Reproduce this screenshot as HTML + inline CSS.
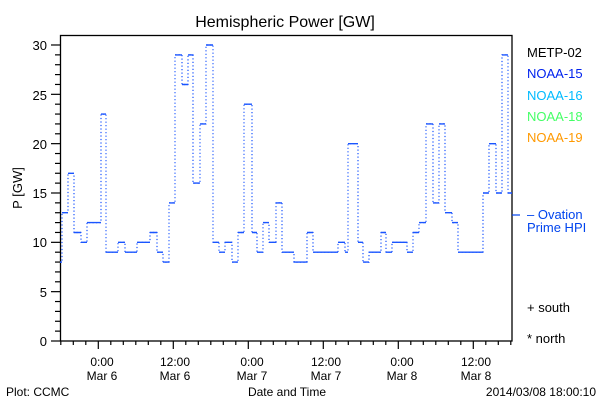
<!DOCTYPE html>
<html><head><meta charset="utf-8"><style>
html,body{margin:0;padding:0;background:#fff;}
svg{display:block;font-family:"Liberation Sans","DejaVu Sans",sans-serif;}
</style></head><body>
<svg id="s" width="600" height="400" viewBox="0 0 600 400" xmlns="http://www.w3.org/2000/svg">
<rect width="600" height="400" fill="#fff"/>
<text x="285" y="27" font-size="16" text-anchor="middle" fill="#000">Hemispheric Power [GW]</text>
<rect x="60.5" y="35.5" width="451.5" height="305.5" fill="none" stroke="#000" stroke-width="1.3"/>
<g id="ticks" stroke="#000" stroke-width="1.2"></g>
<g font-size="13" fill="#000" text-anchor="end">
<text x="47" y="50">30</text><text x="47" y="100">25</text><text x="47" y="149">20</text><text x="47" y="198">15</text><text x="47" y="247">10</text><text x="47" y="297">5</text><text x="47" y="346">0</text>
</g>
<text x="22" y="188" font-size="13" text-anchor="middle" transform="rotate(-90 22 188)">P [GW]</text>
<g font-size="12" fill="#000" text-anchor="middle">
<text x="102" y="366">0:00</text><text x="102" y="380">Mar 6</text>
<text x="175" y="366">12:00</text><text x="175" y="380">Mar 6</text>
<text x="252" y="366">0:00</text><text x="252" y="380">Mar 7</text>
<text x="326" y="366">12:00</text><text x="326" y="380">Mar 7</text>
<text x="402" y="366">0:00</text><text x="402" y="380">Mar 8</text>
<text x="476" y="366">12:00</text><text x="476" y="380">Mar 8</text>
<text x="287" y="396">Date and Time</text>
</g>
<text x="6" y="396" font-size="12">Plot: CCMC</text>
<text x="596" y="396" font-size="12" text-anchor="end">2014/03/08 18:00:10</text>
<g font-size="13">
<text x="527" y="57" fill="#000">METP-02</text>
<text x="527" y="78" fill="#0022ee">NOAA-15</text>
<text x="527" y="100" fill="#00bbff">NOAA-16</text>
<text x="527" y="121" fill="#44ff66">NOAA-18</text>
<text x="527" y="142" fill="#ff9900">NOAA-19</text>
<text x="527" y="219" fill="#0044ee">– Ovation</text>
<text x="527" y="232" fill="#0044ee">Prime HPI</text>
<text x="527" y="312" fill="#000">+ south</text>
<text x="527" y="343" fill="#000">* north</text>
</g>
<line x1="512" y1="215" x2="520" y2="215" stroke="#0044ee" stroke-width="1.2"/>
<path fill="none" stroke="#1a55ff" stroke-width="1.2" stroke-dasharray="1.2,2.3" d="M60 262.1H62V212.7H68V173.3H74V232.5H81V242.3H87V222.6H101V114.1H106V252.2H118V242.3H125V252.2H137V242.3H150V232.5H157V252.2H163V262.1H169V202.9H175V54.9H182V84.5H188V54.9H193V183.1H200V123.9H206V45H213V242.3H219V252.2H225V242.3H232V262.1H238V232.5H244V104.2H252V232.5H257V252.2H263V222.6H269V242.3H276V202.9H282V252.2H294V262.1H307V232.5H313V252.2H338V242.3H345V252.2H348V143.7H358V242.3H363V262.1H369V252.2H381V232.5H386V252.2H392V242.3H407V252.2H413V232.5H419V222.6H426V123.9H433V202.9H439V123.9H445V212.7H452V222.6H458V252.2H483V193H489V143.7H496V193H502V54.9H508V193H512"/>
<path fill="none" stroke="#1a55ff" stroke-width="1.4" d="M60 262.1H62 M62 212.7H68 M68 173.3H74 M74 232.5H81 M81 242.3H87 M87 222.6H101 M101 114.1H106 M106 252.2H118 M118 242.3H125 M125 252.2H137 M137 242.3H150 M150 232.5H157 M157 252.2H163 M163 262.1H169 M169 202.9H175 M175 54.9H182 M182 84.5H188 M188 54.9H193 M193 183.1H200 M200 123.9H206 M206 45H213 M213 242.3H219 M219 252.2H225 M225 242.3H232 M232 262.1H238 M238 232.5H244 M244 104.2H252 M252 232.5H257 M257 252.2H263 M263 222.6H269 M269 242.3H276 M276 202.9H282 M282 252.2H294 M294 262.1H307 M307 232.5H313 M313 252.2H338 M338 242.3H345 M345 252.2H348 M348 143.7H358 M358 242.3H363 M363 262.1H369 M369 252.2H381 M381 232.5H386 M386 252.2H392 M392 242.3H407 M407 252.2H413 M413 232.5H419 M419 222.6H426 M426 123.9H433 M433 202.9H439 M439 123.9H445 M445 212.7H452 M452 222.6H458 M458 252.2H483 M483 193H489 M489 143.7H496 M496 193H502 M502 54.9H508 M508 193H512"/>
</svg>
<script>
var g=document.getElementById('ticks'),ns='http://www.w3.org/2000/svg',h='';
for(var v=0;v<=30;v++){var y=341-9.867*v;var x1=(v%5==0)?51:55;h+='<line x1="'+x1+'" y1="'+y+'" x2="60" y2="'+y+'"/>';}
for(var i=0;i<=36;i++){var x=60.8+12.5*i;if(x>512)break;var maj=(i%6==3);h+='<line x1="'+x+'" y1="341" x2="'+x+'" y2="'+(maj?349:345)+'"/>';}
g.innerHTML=h;
</script>
</body></html>
